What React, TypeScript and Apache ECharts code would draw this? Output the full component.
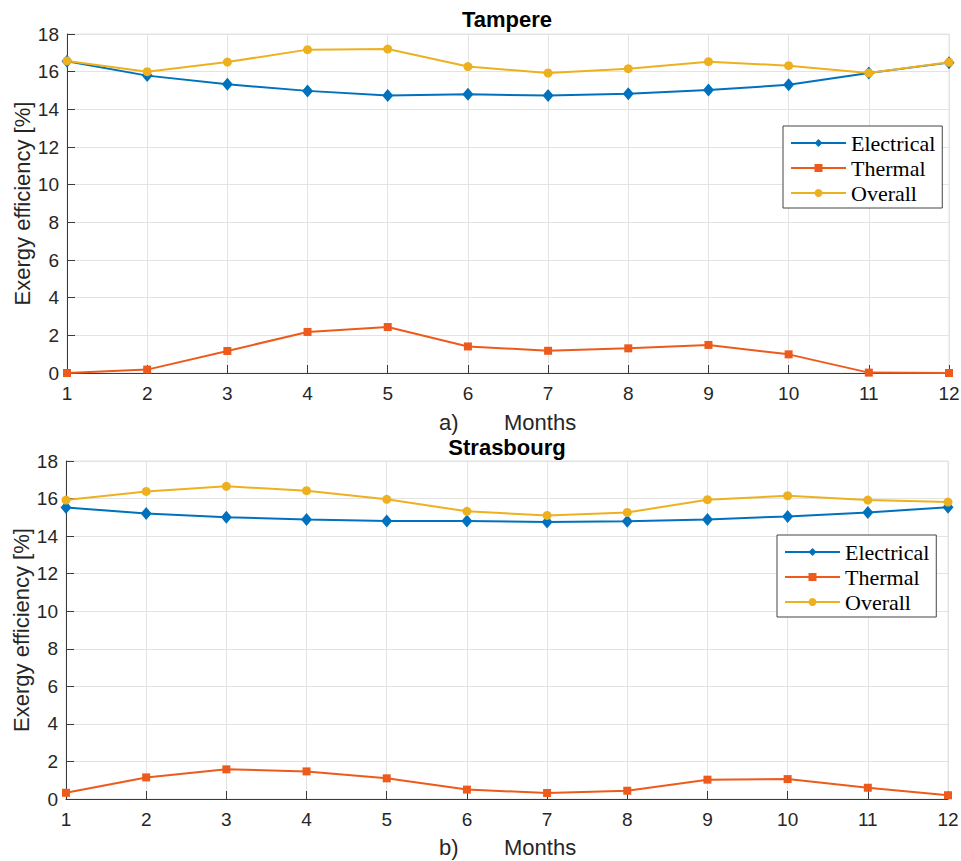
import React, { useEffect, useRef } from "react";
import * as echarts from "echarts";

const months = [1, 2, 3, 4, 5, 6, 7, 8, 9, 10, 11, 12];
const seriesNames = ["Electrical", "Thermal", "Overall"];

const tampereElectrical = [16.55, 15.79, 15.33, 14.98, 14.73, 14.8, 14.73, 14.83, 15.03, 15.3, 15.93, 16.48];
const tampereThermal = [0.0, 0.18, 1.17, 2.18, 2.44, 1.41, 1.18, 1.31, 1.49, 0.99, 0.02, 0.0];
const tampereOverall = [16.57, 16.0, 16.51, 17.17, 17.2, 16.27, 15.93, 16.16, 16.53, 16.32, 15.93, 16.5];

const strasElectrical = [15.53, 15.2, 15.01, 14.89, 14.8, 14.8, 14.75, 14.79, 14.89, 15.05, 15.26, 15.54];
const strasThermal = [0.33, 1.15, 1.58, 1.47, 1.1, 0.5, 0.32, 0.44, 1.03, 1.06, 0.6, 0.2];
const strasOverall = [15.92, 16.38, 16.65, 16.42, 15.96, 15.32, 15.1, 15.26, 15.94, 16.15, 15.92, 15.81];

const titles = ["Tampere", "Strasbourg"];
const panelLabels = ["a)", "b)"];
const xAxisTitle = "Months";
const yAxisTitle = "Exergy efficiency [%]";

const colors = ["#0072BD", "#EE5A1C", "#EDB120"];
const symbols = ["diamond", "rect", "circle"];
const symbolSizes: any[] = [[11, 13], 8, 9];

const sans = "'Liberation Sans', Arial, Helvetica, sans-serif";
const serif = "'Liberation Serif', 'Times New Roman', serif";
const axisDark = "#3a3a3a";
const textDark = "#262626";
const gridColor = "#e3e3e3";

export default function App() {
  const ref = useRef<HTMLDivElement>(null);
  useEffect(() => {
    if (!ref.current) return;
    const chart = echarts.init(ref.current, undefined, { renderer: "svg" });
    const grids = [
      { left: 67, top: 34, width: 882, height: 339 },
      { left: 66, top: 461, width: 882, height: 338 },
    ];
    const panels = [
      [tampereElectrical, tampereThermal, tampereOverall],
      [strasElectrical, strasThermal, strasOverall],
    ];
    const xAxes = grids.map((_, i) => ({
      type: "value",
      gridIndex: i,
      min: 1,
      max: 12,
      interval: 1,
      axisLine: { show: true, onZero: false, lineStyle: { color: axisDark, width: 1 } },
      axisTick: { show: true, inside: true, length: 8, lineStyle: { color: axisDark } },
      axisLabel: { color: textDark, fontSize: 19, fontFamily: sans, margin: 11 },
      splitLine: { show: true, lineStyle: { color: gridColor, width: 1 } },
    }));
    const yAxes = grids.map((_, i) => ({
      type: "value",
      gridIndex: i,
      min: 0,
      max: 18,
      interval: 2,
      name: yAxisTitle,
      nameLocation: "middle",
      nameGap: 34,
      nameMoveOverlap: false,
      nameTextStyle: { color: textDark, fontSize: 22, fontFamily: sans },
      axisLine: { show: true, lineStyle: { color: axisDark, width: 1 } },
      axisTick: { show: true, inside: true, length: 8, lineStyle: { color: axisDark } },
      axisLabel: { color: textDark, fontSize: 19, fontFamily: sans, margin: 8 },
      splitLine: { show: true, lineStyle: { color: gridColor, width: 1 } },
    }));
    const series: any[] = [];
    panels.forEach((vals, p) => {
      vals.forEach((arr, k) => {
        series.push({
          type: "line",
          name: seriesNames[k],
          xAxisIndex: p,
          yAxisIndex: p,
          data: months.map((m, j) => [m, arr[j]]),
          symbol: symbols[k],
          symbolSize: symbolSizes[k],
          showAllSymbol: true,
          lineStyle: { color: colors[k], width: 2 },
          itemStyle: { color: colors[k] },
          z: 2 + k,
        });
      });
    });
    const legendBase = {
      orient: "vertical",
      data: seriesNames,
      itemWidth: 55,
      itemHeight: 10,
      itemGap: 3,
      padding: [6, 7, 4, 7],
      borderColor: "#444",
      borderWidth: 1,
      backgroundColor: "#ffffff",
      borderRadius: 0,
      textStyle: { fontFamily: serif, fontSize: 22, color: "#000" },
      selectedMode: false,
    };
    const option: any = {
      animation: false,
      backgroundColor: "#ffffff",
      title: [
        { text: titles[0], left: 507, top: 8, textAlign: "center", textStyle: { fontFamily: sans, fontWeight: "bold", fontSize: 22, color: "#000" }, padding: 0 },
        { text: titles[1], left: 507, top: 436, textAlign: "center", textStyle: { fontFamily: sans, fontWeight: "bold", fontSize: 22, color: "#000" }, padding: 0 },
      ],
      grid: grids.map((g) => ({
        ...g,
        show: true,
        containLabel: false,
        outerBoundsMode: "none",
        borderColor: gridColor,
        borderWidth: 1,
        backgroundColor: "transparent",
      })),
      xAxis: xAxes,
      yAxis: yAxes,
      legend: [
        { ...legendBase, left: 783, top: 126 },
        { ...legendBase, left: 777, top: 535 },
      ],
      graphic: [
        { type: "text", left: 439, top: 411, style: { text: panelLabels[0], font: `22px ${sans}`, fill: textDark } },
        { type: "text", left: 504, top: 411, style: { text: xAxisTitle, font: `22px ${sans}`, fill: textDark } },
        { type: "text", left: 439, top: 836, style: { text: panelLabels[1], font: `22px ${sans}`, fill: textDark } },
        { type: "text", left: 504, top: 836, style: { text: xAxisTitle, font: `22px ${sans}`, fill: textDark } },
      ],
      series,
    };
    chart.setOption(option);
    return () => chart.dispose();
  }, []);
  return (
    <div
      ref={ref}
      style={{ position: "absolute", left: 0, top: 0, width: 961, height: 861 }}
    />
  );
}
